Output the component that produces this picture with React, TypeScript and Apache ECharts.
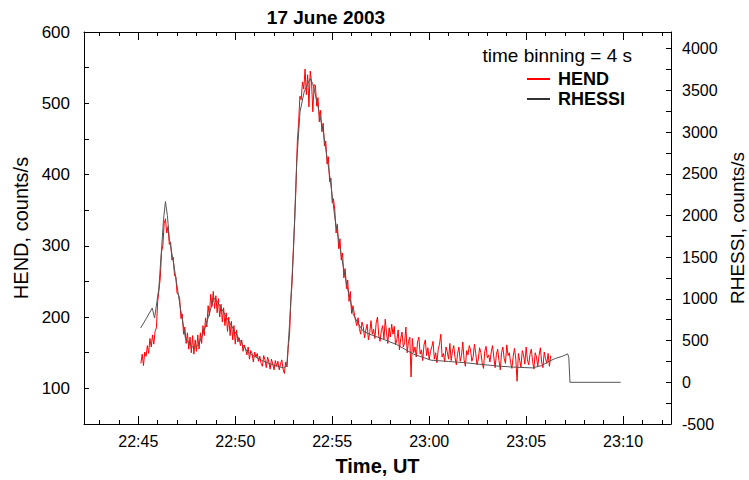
import React, { useEffect, useRef } from "react";
import * as echarts from "echarts";

// ---- data ----
// HEND, 4 s bins starting 22:45:08 UT (counts/s)
const hendStartMin = 22 * 60 + 45 + 8 / 60;
const hendBinMin = 4 / 60;
const hendValues: number[] = [
  135,148,132,151,145,160,149,170,158,175,162,180,185,222,238,
  255,292,300,331,338,318,327,302,305,280,284,258,257,233,232,
  226,198,204,176,186,163,178,155,172,150,174,148,168,152,175,
  155,178,163,188,174,199,186,216,202,232,215,236,212,230,206,
  226,200,218,193,213,188,206,180,200,174,194,168,188,162,182,
  165,171,160,168,152,161,155,147,158,141,153,149,137,151,144,
  149,138,145,135,131,146,140,129,144,137,127,141,134,126,139,
  131,138,126,134,140,127,121,137,130,158,176,222,250,298,336,
  385,446,472,510,505,530,520,548,512,540,495,545,530,488,526,
  525,496,508,474,490,460,472,440,447,415,425,390,395,360,366,
  350,318,330,296,310,280,290,255,268,240,252,222,236,205,216,
  206,195,188,199,184,176,193,187,171,182,190,168,178,195,176,
  183,170,192,200,174,166,181,188,169,197,178,163,185,172,190,
  176,187,161,168,182,154,170,179,158,164,186,150,166,172,116,
  170,150,158,144,165,172,148,154,139,161,168,146,157,140,152,
  158,166,141,150,136,155,162,176,144,149,137,158,151,141,163,
  139,152,160,143,133,149,158,138,146,165,140,131,153,147,160,
  154,138,144,162,149,133,141,157,150,136,128,152,159,143,147,
  137,151,160,144,129,148,155,139,126,150,158,142,135,161,146,
  150,136,128,145,156,141,110,149,139,130,153,147,134,158,140,
  133,148,155,138,127,150,144,131,146,157,137,129,151,142,135,
  149,131,146,
];

// RHESSI: minutes after 22:45 UT, counts/s
const rhessiMinAfter2245: number[] = [
  0.12, 0.4, 0.72, 0.84, 0.95, 1.06, 1.2, 1.3, 1.4, 1.5, 1.6, 1.83, 2.0, 2.17, 2.43, 2.65, 2.86,
  3.1, 3.4, 3.7, 3.89, 4.05, 4.3, 4.75, 5.2, 5.6, 6.0, 6.46, 7.0, 7.49, 7.66, 7.8, 8.0, 8.17,
  8.34, 8.55, 8.7, 8.86, 9.0, 9.2, 9.54, 9.89, 10.14, 10.49, 10.75, 11.09, 11.35, 11.6, 12.0,
  12.46, 13.32, 14.17, 15.1, 16.0, 16.92, 17.8, 18.63, 19.5, 20.32, 20.8, 21.19, 21.5, 21.88,
  22.14, 22.2, 22.26, 24.88,
];
const rhessiCounts: number[] = [
  651, 760, 891, 771, 950, 1130, 1600, 1950, 2167, 2000, 1720, 1413, 1150, 891, 532, 450, 412,
  450, 620, 850, 1010, 980, 880, 700, 520, 373, 310, 253, 205, 173, 200, 700, 1569, 2645,
  3243, 3480, 3560, 3641, 3580, 3380, 3004, 2445, 1967, 1489, 1170, 812, 700, 612, 570,
  532, 453, 340, 265, 250, 233, 212, 193, 180, 173, 200, 253, 285, 313,
  341, 300, 0, 0,
];

// axes (time in minutes of the day)
const xMin = 22 * 60 + 42.2;
const xMax = 23 * 60 + 12.47;
const xMajorTicks = [1365, 1370, 1375, 1380, 1385, 1390];
const xMinorTicks = [
  1363, 1364, 1366, 1367, 1368, 1369, 1371, 1372, 1373, 1374, 1376, 1377, 1378, 1379,
  1381, 1382, 1383, 1384, 1386, 1387, 1388, 1389, 1391, 1392,
];
const hendTicks = [50, 100, 150, 200, 250, 300, 350, 400, 450, 500, 550, 600];
const hendLabels = [100, 200, 300, 400, 500, 600];
const rhessiTicks = [
  -500, -250, 0, 250, 500, 750, 1000, 1250, 1500, 1750, 2000, 2250, 2500, 2750, 3000,
  3250, 3500, 3750, 4000,
];
const rhessiLabels = [-500, 0, 500, 1000, 1500, 2000, 2500, 3000, 3500, 4000];

const FONT = "'Liberation Sans', Arial, Helvetica, sans-serif";

function fmtTime(v: number): string {
  const total = Math.round(v);
  const h = Math.floor(total / 60);
  const m = total % 60;
  return `${h}:${m < 10 ? "0" + m : m}`;
}

export default function App() {
  const ref = useRef<HTMLDivElement>(null);

  useEffect(() => {
    if (!ref.current) return;
    const chart = echarts.init(ref.current, undefined, { renderer: "svg" });

    const hendData = hendValues.map((v, i) => [hendStartMin + i * hendBinMin, v]);
    const rhessiData = rhessiCounts.map((v, i) => [22 * 60 + 45 + rhessiMinAfter2245[i], v]);

    const axisLineStyle = { color: "#000", width: 1 };
    const xCommon = {
      type: "value",
      min: xMin,
      max: xMax,
      gridIndex: 0,
      splitLine: { show: false },
      minorSplitLine: { show: false },
    };

    const option: any = {
      animation: false,
      backgroundColor: "#fff",
      grid: { left: 84, right: 78, top: 32, bottom: 56, containLabel: false, outerBoundsMode: "none" },
      xAxis: [
        {
          ...xCommon,
          position: "bottom",
          axisLine: { show: true, onZero: false, lineStyle: axisLineStyle },
          axisTick: { show: true, inside: true, length: 8, customValues: xMajorTicks, lineStyle: axisLineStyle },
          axisLabel: {
            show: true,
            customValues: xMajorTicks,
            formatter: (v: number) => fmtTime(v),
            color: "#000",
            fontSize: 16,
            fontFamily: FONT,
            margin: 9,
          },
          name: "Time, UT",
          nameLocation: "middle",
          nameGap: 32,
          nameTextStyle: { fontSize: 20, fontWeight: "bold", color: "#000", fontFamily: FONT },
        },
        {
          ...xCommon,
          position: "bottom",
          axisLine: { show: false, onZero: false },
          axisTick: { show: true, inside: true, length: 4, customValues: xMinorTicks, lineStyle: axisLineStyle },
          axisLabel: { show: false },
        },
        {
          ...xCommon,
          position: "top",
          axisLine: { show: true, onZero: false, lineStyle: axisLineStyle },
          axisTick: { show: true, inside: true, length: 8, customValues: xMajorTicks, lineStyle: axisLineStyle },
          axisLabel: { show: false },
        },
        {
          ...xCommon,
          position: "top",
          axisLine: { show: false, onZero: false },
          axisTick: { show: true, inside: true, length: 4, customValues: xMinorTicks, lineStyle: axisLineStyle },
          axisLabel: { show: false },
        },
      ],
      yAxis: [
        {
          type: "value",
          position: "left",
          min: 50,
          max: 600,
          splitLine: { show: false },
          axisLine: { show: true, onZero: false, lineStyle: axisLineStyle },
          axisTick: { show: true, inside: true, length: 5, customValues: hendTicks, lineStyle: axisLineStyle },
          axisLabel: {
            show: true,
            customValues: hendLabels,
            formatter: (v: number) => String(v),
            color: "#000",
            fontSize: 17,
            fontFamily: FONT,
            margin: 14,
          },
          name: "HEND, counts/s",
          nameLocation: "middle",
          nameRotate: 90,
          nameGap: 47,
          nameTextStyle: { fontSize: 20, color: "#000", fontFamily: FONT },
        },
        {
          type: "value",
          position: "right",
          min: -500,
          max: 4200,
          splitLine: { show: false },
          axisLine: { show: true, onZero: false, lineStyle: axisLineStyle },
          axisTick: { show: true, inside: true, length: 5, customValues: rhessiTicks, lineStyle: axisLineStyle },
          axisLabel: {
            show: true,
            customValues: rhessiLabels,
            formatter: (v: number) => String(v),
            color: "#000",
            fontSize: 16,
            fontFamily: FONT,
            margin: 11,
          },
          name: "RHESSI, counts/s",
          nameLocation: "middle",
          nameRotate: 90,
          nameGap: 54,
          nameTextStyle: { fontSize: 19, color: "#000", fontFamily: FONT },
        },
      ],
      legend: {
        orient: "vertical",
        left: 522,
        top: 65,
        itemWidth: 23,
        itemHeight: 2,
        itemGap: 2,
        icon: "rect",
        data: ["HEND", "RHESSI"],
        textStyle: { fontSize: 18, fontWeight: "bold", color: "#000", fontFamily: FONT, padding: [0, 0, 0, 3] },
      },
      graphic: [
        {
          type: "text",
          x: 326,
          y: 17,
          style: {
            text: "17 June 2003",
            font: `bold 19px ${FONT}`,
            fill: "#000",
            align: "center",
            verticalAlign: "middle",
            textAlign: "center",
            textVerticalAlign: "middle",
          },
        },
        {
          type: "text",
          x: 632,
          y: 55,
          style: {
            text: "time binning = 4 s",
            font: `19px ${FONT}`,
            fill: "#000",
            align: "right",
            verticalAlign: "middle",
            textAlign: "right",
            textVerticalAlign: "middle",
          },
        },
      ],
      series: [
        {
          name: "HEND",
          type: "line",
          xAxisIndex: 0,
          yAxisIndex: 0,
          data: hendData,
          symbol: "none",
          showSymbol: false,
          color: "#ff0000",
          lineStyle: { color: "#ff0000", width: 1 },
          z: 2,
        },
        {
          name: "RHESSI",
          type: "line",
          xAxisIndex: 0,
          yAxisIndex: 1,
          data: rhessiData,
          symbol: "none",
          showSymbol: false,
          color: "#333",
          lineStyle: { color: "#555", width: 1 },
          z: 3,
        },
      ],
    };

    chart.setOption(option);
    return () => chart.dispose();
  }, []);

  return (
    <div
      ref={ref}
      style={{ position: "fixed", left: 0, top: 0, width: 749, height: 480, background: "#fff" }}
    />
  );
}
